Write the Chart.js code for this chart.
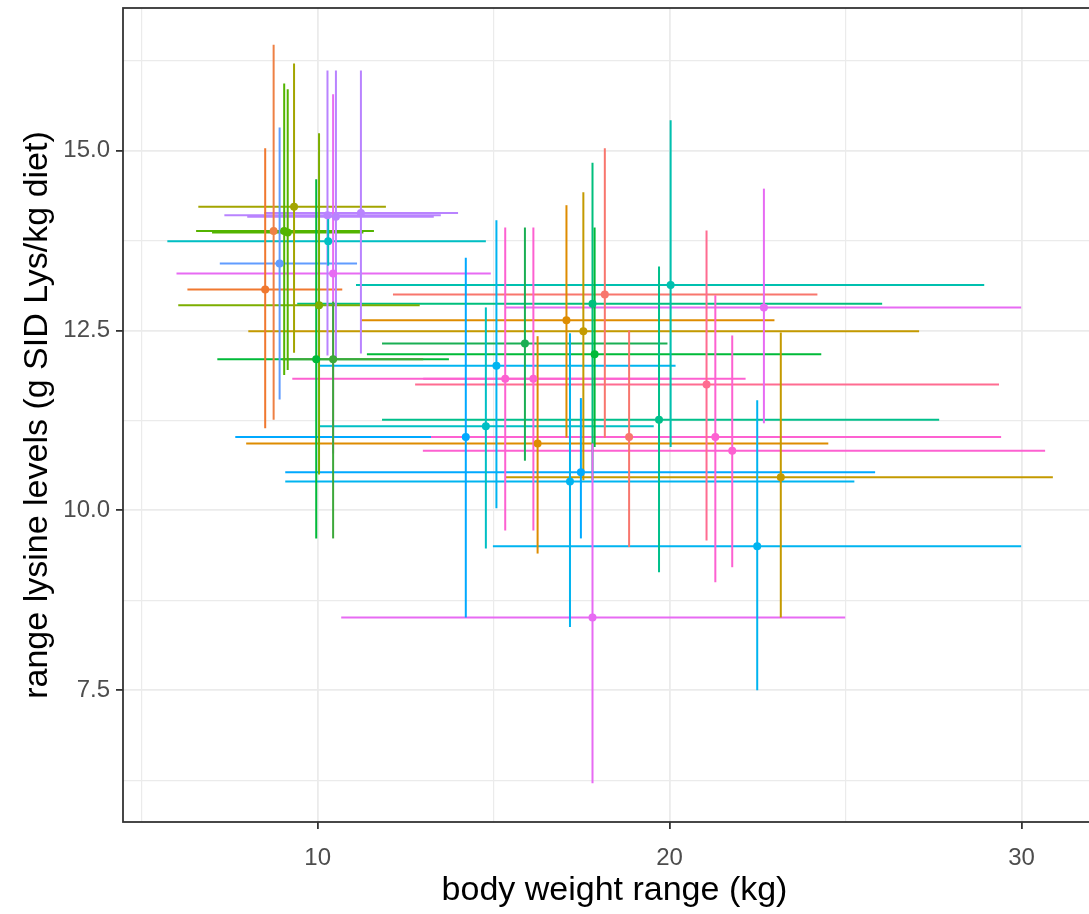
<!DOCTYPE html>
<html>
<head>
<meta charset="utf-8">
<title>Lysine levels by body weight range</title>
<script src="https://cdn.jsdelivr.net/npm/chart.js@4.4.1/dist/chart.umd.min.js"></script>
<style>
  html, body { margin: 0; padding: 0; background: #fff; overflow: hidden; }
  #wrap { width: 1110px; height: 914px; }
</style>
</head>
<body>
<div id="wrap"><canvas id="lysChart" width="1110" height="914"></canvas></div>
<script>
// one entry per trial: mid point plus the reported ranges
const bodyWeight = [20.03, 18.16, 17.81, 22.68, 17.07, 17.55, 15.89, 17.87, 15.08, 15.33,
  16.13, 21.05, 19.70, 14.78, 14.21, 18.85, 21.30, 16.25, 21.78, 17.48,
  17.17, 22.49, 23.16, 17.81, 9.33, 10.28, 11.23, 8.75, 9.05, 9.15,
  10.30, 8.92, 10.44, 8.51, 10.04, 9.96, 10.44, 10.52];
const bwLow = [11.09, 12.14, 9.42, 15.35, 11.23, 8.03, 11.83, 11.40, 10.04, 9.28,
  13.00, 12.77, 11.83, 10.04, 7.66, 13.50, 13.22, 7.97, 12.99, 9.08,
  9.08, 14.98, 15.35, 10.67, 6.61, 7.35, 8.48, 6.55, 6.55, 7.00,
  5.73, 7.22, 5.99, 6.30, 6.04, 7.15, 9.00, 8.00];
const bwHigh = [28.94, 24.20, 26.04, 29.99, 22.98, 27.09, 19.94, 24.31, 20.17, 22.16,
  20.00, 29.36, 27.66, 19.55, 20.50, 24.00, 29.42, 24.51, 30.67, 25.84,
  25.25, 29.99, 30.89, 24.99, 11.94, 13.50, 13.99, 11.46, 11.60, 11.30,
  14.78, 11.12, 14.92, 10.70, 12.90, 13.73, 13.00, 13.30];
const lysine = [13.13, 13.00, 12.87, 12.82, 12.64, 12.49, 12.32, 12.17, 12.01, 11.83,
  11.83, 11.75, 11.26, 11.17, 11.02, 11.02, 11.02, 10.93, 10.83, 10.53,
  10.40, 9.50, 10.46, 8.51, 14.22, 14.10, 14.13, 13.88, 13.88, 13.86,
  13.74, 13.43, 13.29, 13.07, 12.85, 12.10, 12.10, 14.08];
const lysLow = [10.88, 11.01, 10.42, 11.21, 11.01, 10.42, 10.69, 10.88, 10.03, 9.72,
  9.72, 9.58, 9.14, 9.47, 8.51, 9.49, 9.00, 9.40, 9.21, 9.61,
  8.38, 7.50, 8.51, 6.21, 12.19, 12.15, 12.18, 11.26, 11.88, 11.95,
  13.40, 11.54, 10.79, 11.14, 10.50, 9.61, 9.61, 12.10];
const lysHigh = [15.42, 15.03, 14.83, 14.47, 14.24, 14.42, 13.93, 13.93, 14.03, 13.93,
  13.93, 13.89, 13.39, 12.82, 13.51, 12.50, 12.99, 12.42, 12.43, 11.56,
  12.46, 11.53, 12.47, 10.93, 16.21, 16.11, 16.11, 16.47, 15.93, 15.85,
  14.10, 15.32, 15.78, 15.03, 15.24, 14.60, 12.90, 16.11];

const pointColors = ["#00C0AF", "#F8766D", "#00BF7D", "#E76BF3", "#DE8C00", "#C49A00", "#1AAF54", "#00BA38", "#00B4F0", "#FD61D1",
  "#FD61D1", "#FF6C91", "#00C08B", "#00BFC4", "#00A9FF", "#F8766D", "#FD61D1", "#DE8C00", "#FD61D1", "#00A9FF",
  "#00B4F0", "#00B4F0", "#C49A00", "#E76BF3", "#A3A500", "#B983FF", "#B983FF", "#EE8044", "#53B400", "#53B400",
  "#00BFC4", "#619CFF", "#E76BF3", "#F0782F", "#7CAE00", "#00BA38", "#3DA83A", "#B983FF"];

const xTickValues = [5, 10, 15, 20, 25, 30];
const yTickValues = [6.25, 7.5, 8.75, 10, 11.25, 12.5, 13.75, 15, 16.25];

const points = bodyWeight.map((x, i) => ({ x: x, y: lysine[i] }));

const isMajor = (v, step) => Math.abs(v / step - Math.round(v / step)) < 1e-6;

// horizontal and vertical range bars, drawn under the points
const rangeBars = {
  id: "rangeBars",
  beforeDatasetsDraw(chart) {
    const { ctx, chartArea, scales } = chart;
    const xs = scales.x;
    const ys = scales.y;
    ctx.save();
    ctx.beginPath();
    ctx.rect(chartArea.left, chartArea.top, chartArea.right - chartArea.left, chartArea.bottom - chartArea.top);
    ctx.clip();
    ctx.lineWidth = 2;
    ctx.lineCap = "butt";
    bodyWeight.forEach((x, i) => {
      const py = ys.getPixelForValue(lysine[i]);
      ctx.strokeStyle = pointColors[i];
      ctx.beginPath();
      ctx.moveTo(xs.getPixelForValue(bwLow[i]), py);
      ctx.lineTo(xs.getPixelForValue(bwHigh[i]), py);
      ctx.stroke();
    });
    bodyWeight.forEach((x, i) => {
      const px = xs.getPixelForValue(x);
      ctx.strokeStyle = pointColors[i];
      ctx.beginPath();
      ctx.moveTo(px, ys.getPixelForValue(lysLow[i]));
      ctx.lineTo(px, ys.getPixelForValue(lysHigh[i]));
      ctx.stroke();
    });
    ctx.restore();
  },
};

// dark frame round the whole panel
const panelBorder = {
  id: "panelBorder",
  afterDatasetsDraw(chart) {
    const { ctx, chartArea } = chart;
    ctx.save();
    ctx.strokeStyle = "#333333";
    ctx.lineWidth = 1.8;
    ctx.strokeRect(chartArea.left, chartArea.top, chartArea.right - chartArea.left, chartArea.bottom - chartArea.top);
    ctx.restore();
  },
};

const fontFamily = "'Liberation Sans', Arial, sans-serif";

new Chart(document.getElementById("lysChart"), {
  type: "scatter",
  data: {
    datasets: [
      {
        data: points,
        pointRadius: 4,
        pointHoverRadius: 4,
        pointBorderWidth: 0,
        pointBackgroundColor: pointColors,
        pointBorderColor: pointColors,
      },
    ],
  },
  options: {
    responsive: false,
    animation: false,
    layout: { padding: { top: 8, right: 4, left: 0, bottom: 0 } },
    plugins: {
      legend: { display: false },
      tooltip: { enabled: false },
    },
    scales: {
      x: {
        type: "linear",
        min: 4.47,
        max: 32.4,
        afterBuildTicks: (scale) => {
          scale.ticks = xTickValues.map((v) => ({ value: v }));
        },
        afterFit: (scale) => {
          scale.height = 92;
          scale.paddingLeft = 0;
          scale.paddingRight = 0;
        },
        border: { display: false },
        grid: {
          color: "#EBEBEB",
          lineWidth: (c) => (isMajor(c.tick.value, 10) ? 1.8 : 1.2),
          tickColor: (c) => (isMajor(c.tick.value, 10) ? "#333333" : "rgba(0,0,0,0)"),
          tickLength: 7,
          tickWidth: 1.8,
        },
        ticks: {
          autoSkip: false,
          maxRotation: 0,
          padding: 15,
          color: "#4D4D4D",
          font: { family: fontFamily, size: 24 },
          callback: (v) => (isMajor(v, 10) ? String(v) : ""),
        },
        title: {
          display: true,
          text: "body weight range (kg)",
          color: "#000000",
          font: { family: fontFamily, size: 34 },
          padding: { top: 0, bottom: 3 },
        },
      },
      y: {
        type: "linear",
        min: 5.67,
        max: 16.98,
        afterBuildTicks: (scale) => {
          scale.ticks = yTickValues.map((v) => ({ value: v }));
        },
        afterFit: (scale) => {
          scale.width = 123;
          scale.paddingTop = 0;
          scale.paddingBottom = 0;
        },
        border: { display: false },
        grid: {
          color: "#EBEBEB",
          lineWidth: (c) => (isMajor(c.tick.value, 2.5) ? 1.8 : 1.2),
          tickColor: (c) => (isMajor(c.tick.value, 2.5) ? "#333333" : "rgba(0,0,0,0)"),
          tickLength: 7,
          tickWidth: 1.8,
        },
        ticks: {
          autoSkip: false,
          padding: 6,
          color: "#4D4D4D",
          font: { family: fontFamily, size: 24 },
          callback: (v) => (isMajor(v, 2.5) ? v.toFixed(1) : ""),
        },
        title: {
          display: true,
          text: "range lysine levels (g SID Lys/kg diet)",
          color: "#000000",
          font: { family: fontFamily, size: 34 },
          padding: { top: 17, bottom: 0 },
        },
      },
    },
  },
  plugins: [rangeBars, panelBorder],
});
</script>
</body>
</html>
